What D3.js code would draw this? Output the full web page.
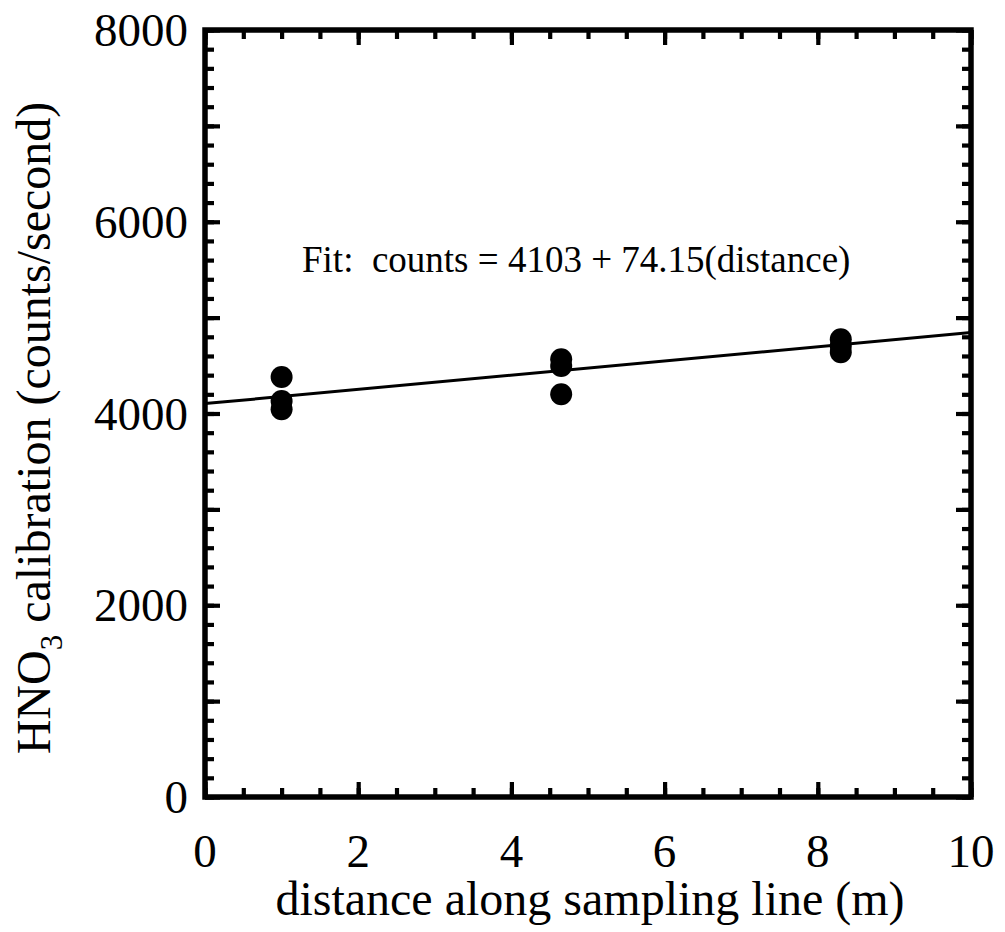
<!DOCTYPE html>
<html>
<head>
<meta charset="utf-8">
<script src="https://cdn.jsdelivr.net/npm/d3@7"></script>
<style>
  html, body { margin: 0; padding: 0; background: #fff; }
  svg { display: block; }
  text { font-family: "Liberation Serif", "Times New Roman", serif; fill: #000; }
</style>
</head>
<body>
<script>
// ---- data ----
const distance = [1.0, 1.0, 1.0, 4.65, 4.65, 4.65, 8.3, 8.3, 8.3];
const counts   = [4380, 4130, 4045, 4565, 4495, 4200, 4775, 4705, 4640];
const fitIntercept = 4103;
const fitSlope = 74.15;
const xTickLabels = [0, 2, 4, 6, 8, 10];
const yTickLabels = [0, 2000, 4000, 6000, 8000];
const xDomain = [0, 10];
const yDomain = [0, 8000];
const fitText = "Fit:  counts = 4103 + 74.15(distance)";
const xTitle = "distance along sampling line (m)";

// ---- layout ----
const W = 1005, H = 932;
const mLeft = 205, mRight = 971, mTop = 30, mBottom = 797;

const svg = d3.select("body").append("svg").attr("width", W).attr("height", H);

const x = d3.scaleLinear().domain(xDomain).range([mLeft, mRight]);
const y = d3.scaleLinear().domain(yDomain).range([mBottom, mTop]);

const xMinor = d3.range(0, 10.001, 0.5);
const xMajor = d3.range(0, 10.001, 2);
const yMinor = d3.range(0, 8000.1, 200);
const yMajor = d3.range(0, 8000.1, 1000);

function tickStyle(g, w) {
  g.select(".domain").remove();
  g.selectAll(".tick line").attr("stroke", "#000").attr("stroke-width", w);
  g.selectAll(".tick text").remove();
}

const majorLen = 15, minorLen = 9, tw = 4.2;
// bottom
svg.append("g").attr("transform", `translate(0,${mBottom})`)
  .call(d3.axisBottom(x).tickValues(xMinor).tickSize(-minorLen)).call(g => tickStyle(g, tw));
svg.append("g").attr("transform", `translate(0,${mBottom})`)
  .call(d3.axisBottom(x).tickValues(xMajor).tickSize(-majorLen)).call(g => tickStyle(g, tw));
// top
svg.append("g").attr("transform", `translate(0,${mTop})`)
  .call(d3.axisTop(x).tickValues(xMinor).tickSize(-minorLen)).call(g => tickStyle(g, tw));
svg.append("g").attr("transform", `translate(0,${mTop})`)
  .call(d3.axisTop(x).tickValues(xMajor).tickSize(-majorLen)).call(g => tickStyle(g, tw));
// left
svg.append("g").attr("transform", `translate(${mLeft},0)`)
  .call(d3.axisLeft(y).tickValues(yMinor).tickSize(-minorLen)).call(g => tickStyle(g, tw));
svg.append("g").attr("transform", `translate(${mLeft},0)`)
  .call(d3.axisLeft(y).tickValues(yMajor).tickSize(-majorLen)).call(g => tickStyle(g, tw));
// right
svg.append("g").attr("transform", `translate(${mRight},0)`)
  .call(d3.axisRight(y).tickValues(yMinor).tickSize(-minorLen)).call(g => tickStyle(g, tw));
svg.append("g").attr("transform", `translate(${mRight},0)`)
  .call(d3.axisRight(y).tickValues(yMajor).tickSize(-majorLen)).call(g => tickStyle(g, tw));

// frame
svg.append("rect").attr("x", mLeft).attr("y", mTop)
  .attr("width", mRight - mLeft).attr("height", mBottom - mTop)
  .attr("fill", "none").attr("stroke", "#000").attr("stroke-width", 5.5);

// tick labels
svg.append("g").selectAll("text").data(xTickLabels).join("text")
  .attr("x", d => x(d)).attr("y", mBottom + 70)
  .attr("text-anchor", "middle").attr("font-size", 47).text(d => d);
svg.append("g").selectAll("text").data(yTickLabels).join("text")
  .attr("x", mLeft - 17).attr("y", d => y(d) + 16)
  .attr("text-anchor", "end").attr("font-size", 47).text(d => d);

// fit line
svg.append("clipPath").attr("id", "clip")
  .append("rect").attr("x", mLeft).attr("y", mTop).attr("width", mRight - mLeft).attr("height", mBottom - mTop);
svg.append("line")
  .attr("clip-path", "url(#clip)")
  .attr("x1", x(xDomain[0])).attr("y1", y(fitIntercept + fitSlope * xDomain[0]))
  .attr("x2", x(xDomain[1])).attr("y2", y(fitIntercept + fitSlope * xDomain[1]))
  .attr("stroke", "#000").attr("stroke-width", 3);

// points
svg.append("g").selectAll("circle").data(distance.map((d, i) => [d, counts[i]])).join("circle")
  .attr("cx", d => x(d[0])).attr("cy", d => y(d[1])).attr("r", 11).attr("fill", "#000");

// fit annotation
svg.append("text").attr("x", 302).attr("y", 272)
  .attr("font-size", 37).style("white-space", "pre").attr("xml:space", "preserve")
  .text(fitText);

// x title
svg.append("text").attr("x", (272 + 908) / 2).attr("y", 915)
  .attr("text-anchor", "middle").attr("font-size", 48).text(xTitle);

// y title
const yt = svg.append("text")
  .attr("transform", `translate(50,428) rotate(-90)`)
  .attr("text-anchor", "middle").attr("font-size", 48);
yt.append("tspan").text("HNO");
yt.append("tspan").attr("font-size", 31).attr("dy", 12).text("3");
yt.append("tspan").attr("dy", -12).text(" calibration (counts/second)");
</script>
</body>
</html>
